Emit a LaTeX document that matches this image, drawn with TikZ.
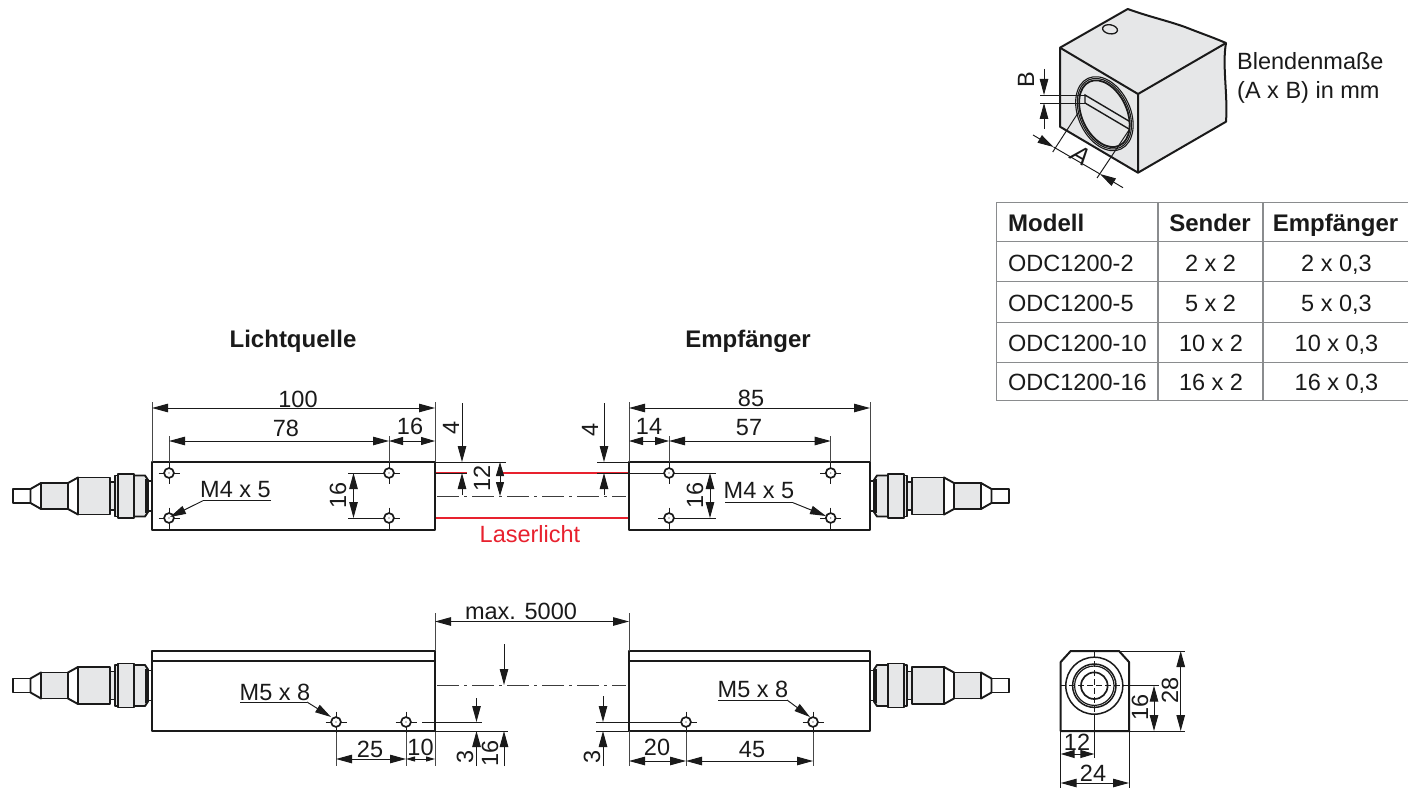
\documentclass[tikz,border=0pt]{standalone}
\usepackage{fontspec}
\setmainfont{Liberation Sans}
\usetikzlibrary{arrows.meta}
\definecolor{bodygray}{HTML}{E6E7E8}
\definecolor{inkc}{HTML}{1A1A1A}
\definecolor{tablegray}{HTML}{8A8C8E}
\definecolor{laser}{HTML}{E8212E}
\tikzset{
  outline/.style={draw=inkc,line width=2pt,line join=round},
  partline/.style={draw=inkc,line width=1.9pt,line join=round},
  thin line/.style={draw=inkc,line width=0.95pt},
  dimline/.style={draw=inkc,line width=0.95pt,{Triangle[length=16pt,width=8.5pt]}-{Triangle[length=16pt,width=8.5pt]}},
  tipline/.style={draw=inkc,line width=0.95pt,-{Triangle[length=16pt,width=8.5pt]}},
  smalltip/.style={draw=inkc,line width=0.95pt,{Triangle[length=14pt,width=8pt]}-{Triangle[length=14pt,width=8pt]}},
  tinytip/.style={draw=inkc,line width=0.95pt,{Triangle[length=9pt,width=5pt]}-{Triangle[length=9pt,width=5pt]}},
  extline/.style={draw=inkc!80,line width=0.95pt},
  axisline/.style={draw=inkc!85,line width=0.95pt,dash pattern=on 22pt off 5pt on 3pt off 5pt},
  redline/.style={draw=laser,line width=1.7pt},
  tablerule/.style={draw=tablegray,line width=1.3pt},
  lbl/.style={inner sep=0pt,font=\fontsize{23.5}{28}\selectfont,text=inkc},
  blbl/.style={lbl,font=\fontsize{24}{28}\selectfont\bfseries},
  rlbl/.style={lbl,rotate=90},
}
\newcommand{\conn}{%
  \path[partline,fill=white] (13,-7) rectangle (30.5,7);
  \path[partline,fill=white] (30.5,-7)--(41,-13)--(41,13)--(30.5,7)--cycle;
  \path[partline,fill=bodygray] (41,-13) rectangle (68,13);
  \path[partline,fill=white] (68,-13)--(78,-18.5)--(78,18.5)--(68,13)--cycle;
  \path[partline,fill=bodygray] (78,-18.5) rectangle (110,18.5);
  \path[partline,fill=bodygray] (110,-14) rectangle (115,14);
  \path[partline,fill=bodygray] (115,-20.5) rectangle (118,20.5);
  \path[partline,fill=bodygray] (118,-22) rectangle (134,22);
  \path[partline,fill=bodygray] (134,-20.5)--(145,-20.5)--(148,-16)--(148,16)--(145,20.5)--(134,20.5)--cycle;
  \path[fill=inkc] (145,-17) rectangle (148,17);
  \path[partline,fill=white] (148,-15) rectangle (152,15);
}
\newcommand{\hole}[2]{%
  \draw[thin line] (#1-10.5,#2)--(#1+10.5,#2) (#1,#2-10.5)--(#1,#2+10.5);
  \path[draw=inkc,line width=1.7pt,fill=white] (#1,#2) circle[radius=4.9];
  \fill[inkc] (#1,#2) circle[radius=0.6];
}
\begin{document}
\begin{tikzpicture}[x=1pt,y=-1pt]
\useasboundingbox (0,0) rectangle (1408,789);
\fill[white] (0,0) rectangle (1408,789);

% ---------- isometric view
\path[outline,fill=bodygray] (1060,47.7)--(1127.7,9)
  .. controls (1150,17) and (1165,20) .. (1185,27)
  .. controls (1200,33) and (1212,37) .. (1226,43)
  .. controls (1222,65) and (1228,95) .. (1226,121.7)
  --(1138,172.7)--(1060,126.7)--cycle;
\draw[outline] (1060,47.7)--(1138,94)--(1226,43) (1138,94)--(1138,172.7);
\path[draw=inkc,line width=1.3pt] (1110,29.3) ellipse[x radius=7.5,y radius=4.5,rotate=-10];
\draw[thin line] (1040,95)--(1085,95) (1040,103)--(1085,103);
\path[draw=inkc,line width=1.1pt] (1104.4,113.7) ellipse[x radius=39,y radius=26,rotate=-65];
\path[draw=inkc,line width=1.1pt] (1104.4,113.7) ellipse[x radius=37.3,y radius=24.3,rotate=-65];
\path[draw=inkc,line width=1.8pt] (1104.4,113.7) ellipse[x radius=35.3,y radius=22.5,rotate=-65];
\draw[draw=inkc,line width=1.4pt] (1130,121.7)--(1085,95)--(1085,103)--(1129,129);
\draw[tipline] (1044,69)--(1044,95);
\draw[tipline] (1044,129)--(1044,103);
\node[rlbl] (labelB) at (1026,80) {B};
\draw[thin line] (1078,113)--(1052.7,152) (1129,130)--(1097,178);
\draw[tipline] (1033,135)--(1053.5,147);
\draw[tipline] (1123,187.7)--(1100,174);
\draw[thin line] (1053.5,147)--(1100,174);
\node[lbl,rotate=-30,font=\fontsize{25}{28}\selectfont\itshape] (labelA) at (1081,155) {A};
\node[lbl,anchor=base west] (blende1) at (1237,70) {Blendenmaße};
\node[lbl,anchor=base west] (blende2) at (1237,98.5) {(A x B) in mm};

% ---------- table
\draw[tablerule] (1408,202.3)--(996.7,202.3)--(996.7,400.7)--(1408,400.7);
\draw[tablerule] (996.7,241.7)--(1408,241.7) (996.7,281.7)--(1408,281.7)
  (996.7,322.3)--(1408,322.3) (996.7,362.3)--(1408,362.3);
\draw[tablerule] (1158,202.3)--(1158,400.7) (1263,202.3)--(1263,400.7);
\node[blbl,anchor=base west] (tm) at (1008,231) {Modell};
\node[blbl,anchor=base] (ts) at (1210,231) {Sender};
\node[blbl,anchor=base] (te) at (1335.5,231) {Empfänger};
\node[lbl,anchor=base west] (a1) at (1008,271) {ODC1200-2};
\node[lbl,anchor=base] (b1) at (1210.5,271) {2 x 2};
\node[lbl,anchor=base] (c1) at (1336.5,271) {2 x 0,3};
\node[lbl,anchor=base west] (a2) at (1008,311) {ODC1200-5};
\node[lbl,anchor=base] (b2) at (1210.5,311) {5 x 2};
\node[lbl,anchor=base] (c2) at (1336.5,311) {5 x 0,3};
\node[lbl,anchor=base west] (a3) at (1008,351) {ODC1200-10};
\node[lbl,anchor=base] (b3) at (1211,351) {10 x 2};
\node[lbl,anchor=base] (c3) at (1336.5,351) {10 x 0,3};
\node[lbl,anchor=base west] (a4) at (1008,390.5) {ODC1200-16};
\node[lbl,anchor=base] (b4) at (1211,390.5) {16 x 2};
\node[lbl,anchor=base] (c4) at (1336.5,390.5) {16 x 0,3};

% ---------- titles
\node[blbl,anchor=base] (t1) at (293,347.5) {Lichtquelle};
\node[blbl,anchor=base] (t2) at (748,347.5) {Empfänger};

% ---------- top view
\begin{scope}[shift={(0,496)}]\conn\end{scope}
\begin{scope}[shift={(1022,496)},xscale=-1]\conn\end{scope}

\draw[redline] (436,473)--(467,473) (503,473)--(629,473) (436,518)--(629,518);
\draw[axisline] (437,496)--(626,496);
\path[outline] (152,462) rectangle (435,530);
\path[outline] (629,462) rectangle (870,530);
\node[lbl,text=laser] (laser) at (530,534) {Laserlicht};

\draw[extline] (152,402)--(152,462) (435,402)--(435,462) (629,402)--(629,462) (870,402)--(870,462);
\draw[extline] (169,436)--(169,462) (389,436)--(389,462) (669,436)--(669,462) (830.7,436)--(830.7,462);
\draw[thin line] (435,462)--(506,462) (597,462)--(629,462);
\draw[thin line] (435,473)--(467,473) (597,473)--(716,473) (658,518)--(716,518);
\draw[thin line] (348,473)--(389,473) (348,518)--(389,518);
\draw[dimline] (152,408)--(435,408);
\draw[dimline] (629,408)--(870,408);
\draw[dimline] (169,441)--(389,441);
\draw[dimline] (669,441)--(830.7,441);
\draw[smalltip] (389,441)--(435,441);
\draw[smalltip] (629,441)--(669,441);
\draw[dimline] (353.5,473)--(353.5,518);
\draw[dimline] (710,473)--(710,518);
\draw[tipline] (462,403)--(462,462);
\draw[tipline] (462,495)--(462,473);
\draw[tipline] (604,403)--(604,462);
\draw[tipline] (604,495)--(604,473);
\draw[smalltip] (500,462)--(500,496);
\node[lbl] (d100) at (298,399) {100};
\node[lbl] (d78) at (286,428) {78};
\node[lbl] (d16a) at (410,426) {16};
\node[lbl] (d85) at (751,398) {85};
\node[lbl] (d14) at (649,426) {14};
\node[lbl] (d57) at (749,428) {57};
\node[rlbl] (d16b) at (338,495) {16};
\node[rlbl] (d16c) at (695,495) {16};
\node[rlbl] (d4a) at (451,428) {4};
\node[rlbl] (d4b) at (590,430) {4};
\node[rlbl] (d12) at (482,478) {12};
\hole{169}{473}\hole{169}{518}\hole{389}{473}\hole{389}{518}
\hole{669}{473}\hole{669}{518}\hole{830.7}{473}\hole{830.7}{518}
\node[lbl] (m4a) at (235.5,490) {M4 x 5};
\node[lbl] (m4b) at (759,491) {M4 x 5};
\draw[thin line] (271,500.7)--(203,500.7);
\draw[tipline] (203,500.7)--(170,517);
\draw[thin line] (725,502.7)--(793,502.7);
\draw[tipline] (793,502.7)--(826,516);

% ---------- side view
\begin{scope}[shift={(0,685.5)}]\conn\end{scope}
\begin{scope}[shift={(1022,685.5)},xscale=-1]\conn\end{scope}
\path[outline] (152,651) rectangle (435,731);
\path[outline] (629,651) rectangle (870,731);
\draw[partline] (152,661)--(435,661) (629,661)--(870,661);
\draw[axisline] (437,685)--(626,685);
\draw[extline] (435,613)--(435,651) (629,613)--(629,651) (435,731)--(435,766) (629,731)--(629,766);
\draw[extline] (336,731)--(336,766) (406,731)--(406,766) (686,731)--(686,766) (813,731)--(813,766);
\draw[dimline] (435,621.5)--(629,621.5);
\node[lbl] (dmax) at (521,611) {max. 5000};
\draw[dimline] (336,759)--(406,759);
\draw[tinytip] (406,759)--(435,759);
\draw[dimline] (629,761)--(686,761);
\draw[dimline] (686,761)--(813,761);
\node[lbl] (d25) at (370,749) {25};
\node[lbl] (d10) at (420.5,747) {10};
\node[lbl] (d20) at (657,747) {20};
\node[lbl] (d45) at (752,750) {45};
\draw[thin line] (422,722)--(482,722) (435,731)--(508,731) (596,722)--(680,722) (596,731)--(629,731);
\draw[tipline] (476.5,698)--(476.5,722);
\draw[tipline] (476.5,766)--(476.5,731);
\draw[tipline] (504,644)--(504,685);
\draw[tipline] (504,766)--(504,731);
\draw[tipline] (603,696)--(603,722);
\draw[tipline] (603,766)--(603,731);
\node[rlbl] (d3a) at (465,757) {3};
\node[rlbl] (d16d) at (490,753) {16};
\node[rlbl] (d3b) at (592,757) {3};
\hole{336}{722}\hole{406}{722}\hole{686}{722}\hole{813}{722}
\node[lbl] (m5a) at (275,692) {M5 x 8};
\node[lbl] (m5b) at (753,689) {M5 x 8};
\draw[thin line] (240,702)--(307,702);
\draw[tipline] (307,702)--(331,717);
\draw[thin line] (718,700)--(787,700);
\draw[tipline] (787,700)--(810,717);

% ---------- end view
\path[outline] (1060.7,731)--(1060.7,662)--(1070.7,651)--(1119,651)--(1129,662)--(1129,731)--cycle;
\draw[outline,line width=1.5pt] (1094.3,685.7) circle[radius=28.5];
\draw[outline,line width=1.5pt] (1094.3,685.7) circle[radius=21.7];
\draw[outline,line width=1.2pt] (1094.3,685.7) circle[radius=19.7];
\draw[outline,line width=1.7pt] (1094.3,685.7) circle[radius=13.3];
\draw[thin line,dash pattern=on 6pt off 3pt] (1060,685.7)--(1123,685.7) (1094.3,652)--(1094.3,716);
\draw[thin line] (1123,685.7)--(1159,685.7) (1119,651)--(1185,651) (1129,731)--(1185,731);
\draw[thin line] (1094.3,716)--(1094.3,758) (1060.7,731)--(1060.7,788) (1129,731)--(1129,788);
\draw[dimline] (1180.7,651)--(1180.7,731);
\draw[dimline] (1154,685.7)--(1154,731);
\draw[smalltip] (1060.7,754)--(1094.3,754);
\draw[dimline] (1060.7,783)--(1129,783);
\node[rlbl] (d28) at (1170,690) {28};
\node[rlbl] (d16e) at (1140,707) {16};
\node[lbl] (d12b) at (1077,742) {12};
\node[lbl] (d24) at (1093,773) {24};
\end{tikzpicture}
\end{document}
